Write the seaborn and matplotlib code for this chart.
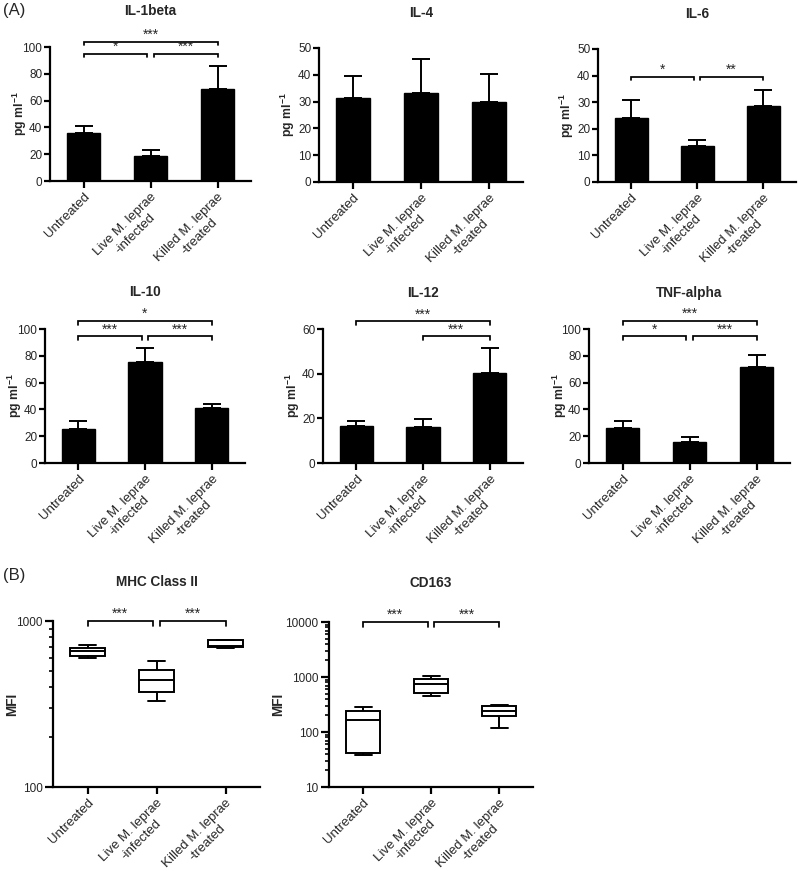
import numpy as np
import pandas as pd
import matplotlib
matplotlib.use("Agg")
import matplotlib.pyplot as plt
import matplotlib.ticker as mticker
import seaborn as sns

sns.set_theme(style="ticks")
plt.rcParams['font.family'] = ['Liberation Sans', 'DejaVu Sans']
plt.rcParams['mathtext.fontset'] = 'custom'
plt.rcParams['mathtext.rm'] = 'Liberation Sans'
plt.rcParams['mathtext.bf'] = 'Liberation Sans:bold'

# ---------------- data ----------------
categories = ["Untreated", "Live M. leprae\n-infected", "Killed M. leprae\n-treated"]

il1b_mean = [36, 19, 68.7]
il1b_sem = [5, 4, 17.3]
il4_mean = [31.3, 33.2, 30.0]
il4_sem = [8.4, 12.8, 10.2]
il6_mean = [24.0, 13.6, 28.7]
il6_sem = [7.0, 2.2, 5.9]
il10_mean = [25.3, 75.0, 40.8]
il10_sem = [6.2, 11.0, 3.5]
il12_mean = [16.6, 16.2, 40.2]
il12_sem = [2.0, 3.3, 11.4]
tnf_mean = [26.0, 16.0, 71.5]
tnf_sem = [5.0, 3.3, 9.0]

# box plot raw values (min, q1, median, q3, max)
mhc_untreated = [596, 615, 657, 685, 717]
mhc_live = [328, 373, 440, 509, 571]
mhc_killed = [690, 695, 707, 765, 773]
cd163_untreated = [37.6, 41.5, 165, 241, 281]
cd163_live = [458, 512, 736, 920, 1042]
cd163_killed = [118, 195, 244, 293, 305]

# significance brackets: (x1, x2, y, label)
il1b_sig = [(0, 0.95, 95, "*"), (1.05, 2, 95, "***"), (0, 2, 104, "***")]
il6_sig = [(0, 0.95, 39.6, "*"), (1.05, 2, 39.6, "**")]
il10_sig = [(0, 0.95, 94.5, "***"), (1.05, 2, 94.5, "***"), (0, 2, 106, "*")]
il12_sig = [(1, 2, 56.7, "***"), (0, 2, 63.4, "***")]
tnf_sig = [(0, 0.95, 94.5, "*"), (1.05, 2, 94.5, "***"), (0, 2, 106, "***")]
mhc_sig = [(0, 0.95, 1000, "***"), (1.05, 2, 1000, "***")]
cd163_sig = [(0, 0.95, 10000, "***"), (1.05, 2, 10000, "***")]

# ---------------- figure ----------------
W, H = 798, 871
fig = plt.figure(figsize=(W / 100, H / 100), dpi=100)


def rect(l, r, top, bottom):
    return [l / W, 1 - bottom / H, (r - l) / W, (bottom - top) / H]


LW = 1.6


def style_axes(ax):
    sns.despine(ax=ax)
    for s in ("left", "bottom"):
        ax.spines[s].set_linewidth(LW)
        ax.spines[s].set_color("black")
    ax.tick_params(axis="both", which="major", direction="out", width=LW,
                   length=4, color="black", labelsize=8.5, pad=1.5)
    ax.tick_params(axis="x", which="major", length=5, labelsize=9.5, pad=2)
    ax.set_xlim(-0.5, 2.5)
    ax.set_xlabel("")
    ax.set_xticks([0, 1, 2])
    ax.set_xticklabels(categories, rotation=45, ha="right", va="top",
                       rotation_mode="anchor", multialignment="center")


def place_ylabel(ax, pos, dx_px):
    width = pos[1] - pos[0]
    ax.yaxis.set_label_coords(-dx_px / width, 0.5)
    ax.yaxis.label.set_verticalalignment("center")


def add_title(ax, text, dpx):
    ax.annotate(text, xy=(0.5, 1), xycoords="axes fraction",
                xytext=(0, dpx * 0.72), textcoords="offset points",
                ha="center", va="center", fontsize=9.8, fontweight="bold")


def add_sig(ax, sig):
    trans = ax.get_xaxis_transform()  # x in data, y in axes fraction
    for x1, x2, y, lab in sig:
        yf = ax.transAxes.inverted().transform(ax.transData.transform((0, y)))[1]
        tip = yf - 0.028
        ax.plot([x1, x1, x2, x2], [tip, yf, yf, tip], color="black", lw=1.25,
                transform=trans, clip_on=False, solid_joinstyle="miter")
        ax.text((x1 + x2) / 2, yf + 0.0, lab, transform=trans, ha="center",
                va="bottom", fontsize=10, clip_on=False)


def bar_panel(pos, title, means, sems, ymax, ystep, sig, tdpx, ldx):
    ax = fig.add_axes(rect(*pos))
    df = pd.DataFrame({"group": categories, "value": means})
    sns.barplot(data=df, x="group", y="value", color="black", width=0.5,
                errorbar=None, edgecolor="black", linewidth=1, ax=ax,
                saturation=1)
    ax.errorbar([0, 1, 2], means, yerr=[np.zeros(3), sems], fmt="none",
                ecolor="black", elinewidth=1.4, capsize=6.5, capthick=1.4,
                zorder=3, clip_on=False)
    ax.set_ylim(0, ymax)
    ax.set_yticks(np.arange(0, ymax + 0.1, ystep))
    ax.set_ylabel(r"$\mathbf{pg\ ml^{-1}}$", fontsize=8.8, fontweight="bold")
    place_ylabel(ax, pos, ldx)
    style_axes(ax)
    add_title(ax, title, tdpx)
    add_sig(ax, sig)
    return ax


def box_panel(pos, title, groups, ylo, yhi, sig, tdpx, ldx):
    ax = fig.add_axes(rect(*pos))
    rows = []
    for cat, vals in zip(categories, groups):
        for v in vals:
            rows.append({"group": cat, "value": v})
    df = pd.DataFrame(rows)
    sns.boxplot(data=df, x="group", y="value", order=categories, whis=(0, 100),
                width=0.5, color="white", linecolor="black", linewidth=1.4,
                fliersize=0, ax=ax, log_scale=True)
    ax.set_ylim(ylo, yhi)
    majors = [10 ** k for k in range(int(np.log10(ylo)), int(np.log10(yhi)) + 1)]
    ax.set_yticks(majors)
    ax.yaxis.set_major_formatter(mticker.FuncFormatter(lambda v, p: f"{int(round(v))}"))
    ax.yaxis.set_minor_locator(mticker.LogLocator(base=10, subs=np.arange(2, 10)))
    ax.yaxis.set_minor_formatter(mticker.NullFormatter())
    ax.set_ylabel("MFI", fontsize=9.8, fontweight="bold")
    place_ylabel(ax, pos, ldx)
    style_axes(ax)
    ax.tick_params(axis="y", which="major", length=6)
    ax.tick_params(axis="y", which="minor", direction="out", width=1.2,
                   length=3, color="black")
    add_title(ax, title, tdpx)
    add_sig(ax, sig)
    return ax


P_IL1B = (50, 251, 47, 181)
P_IL4 = (319, 523, 48, 182)
P_IL6 = (598, 796, 49, 182)
P_IL10 = (45, 245, 329, 463)
P_IL12 = (323, 523, 329, 463)
P_TNF = (589, 790, 329, 463)
P_MHC = (53, 260, 621, 787)
P_CD163 = (329, 533, 622, 787)

bar_panel(P_IL1B, "IL-1beta", il1b_mean, il1b_sem, 100, 20, il1b_sig, 36, 30)
bar_panel(P_IL4, "IL-4", il4_mean, il4_sem, 50, 10, [], 35, 31)
bar_panel(P_IL6, "IL-6", il6_mean, il6_sem, 50, 10, il6_sig, 35, 31)
bar_panel(P_IL10, "IL-10", il10_mean, il10_sem, 100, 20, il10_sig, 37, 30)
bar_panel(P_IL12, "IL-12", il12_mean, il12_sem, 60, 20, il12_sig, 36, 30)
bar_panel(P_TNF, "TNF-alpha", tnf_mean, tnf_sem, 100, 20, tnf_sig, 36, 29)

box_panel(P_MHC, "MHC Class II",
          [mhc_untreated, mhc_live, mhc_killed], 100, 1000, mhc_sig, 39, 41)
box_panel(P_CD163, "CD163",
          [cd163_untreated, cd163_live, cd163_killed], 10, 10000, cd163_sig, 39, 51)

fig.text(3 / W, 1 - 11 / H, "(A)", fontsize=12, ha="left", va="center")
fig.text(3 / W, 1 - 575 / H, "(B)", fontsize=12, ha="left", va="center")

fig.savefig("out.png", dpi=100)
